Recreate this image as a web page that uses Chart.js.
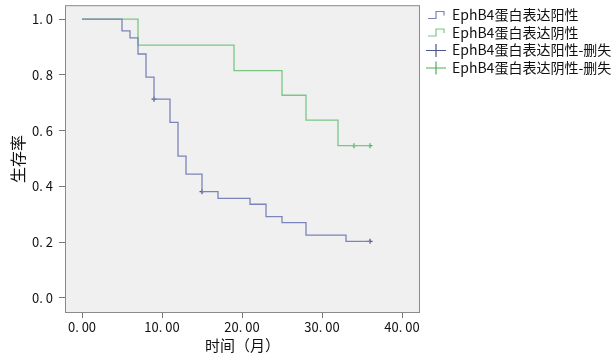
<!DOCTYPE html>
<html>
<head>
<meta charset="utf-8">
<script src="https://cdn.jsdelivr.net/npm/chart.js@4/dist/chart.umd.min.js"></script>
<style>
  html, body { margin: 0; padding: 0; background: #fff; }
  #wrap { width: 615px; height: 360px; position: relative; }
</style>
</head>
<body>
<div id="wrap"><canvas id="km" width="615" height="360"></canvas></div>
<script>
// survival steps
const posTimes = [0, 5, 6, 7, 8, 9, 11, 12, 13, 15, 17, 21, 23, 25, 28, 33, 36];
const posSurv = [1, 0.958, 0.933, 0.875, 0.792, 0.713, 0.630, 0.509, 0.444, 0.381, 0.357, 0.336, 0.292, 0.270, 0.225, 0.203, 0.203];
const negTimes = [0, 7, 19, 25, 28, 32, 36];
const negSurv = [1, 0.907, 0.815, 0.727, 0.638, 0.546, 0.546];

// censored observations
const posCensTimes = [9, 15, 36];
const posCensSurv = [0.713, 0.381, 0.203];
const negCensTimes = [34, 36];
const negCensSurv = [0.546, 0.546];

const xTicks = [0, 10, 20, 30, 40];
const xTickLabels = ['0. 00', '10. 00', '20. 00', '30. 00', '40. 00'];
const yTicks = [0, 0.2, 0.4, 0.6, 0.8, 1.0];
const yTickLabels = ['0. 0', '0. 2', '0. 4', '0. 6', '0. 8', '1. 0'];

const legendLabels = ['EphB4蛋白表达阳性', 'EphB4蛋白表达阴性', 'EphB4蛋白表达阳性-删失', 'EphB4蛋白表达阴性-删失'];

const blueLine = '#7a84b8';
const greenLine = '#78c884';
const blueMark = '#4d568f';
const greenMark = '#4caf5e';
const font = '"Noto Sans CJK SC", "Noto Sans", sans-serif';

const toPoints = (xs, ys) => xs.map((x, i) => ({ x: x, y: ys[i] }));

const plotFrame = {
    id: 'plotFrame',
    beforeDraw(chart) {
        const a = chart.chartArea;
        const ctx = chart.ctx;
        ctx.save();
        ctx.fillStyle = '#f0f0f0';
        ctx.fillRect(a.left, a.top, a.right - a.left, a.bottom - a.top);
        ctx.restore();
    },
    afterDraw(chart) {
        const a = chart.chartArea;
        const ctx = chart.ctx;
        ctx.save();
        ctx.strokeStyle = '#8a8a8a';
        ctx.lineWidth = 1;
        ctx.strokeRect(a.left + 0.5, a.top + 0.5, a.right - a.left - 1, a.bottom - a.top - 1);

        // legend
        const colors = [blueLine, greenLine, blueMark, greenMark];
        const x0 = 428, tx = 452;
        const rows = [15, 32.5, 50, 67.5];
        ctx.font = '14px ' + font;
        ctx.textBaseline = 'middle';
        ctx.fillStyle = '#111';
        rows.forEach((y, i) => {
            ctx.strokeStyle = colors[i];
            ctx.lineWidth = 1.2;
            ctx.beginPath();
            if (i < 2) {
                ctx.moveTo(x0, y + 3.5);
                ctx.lineTo(x0 + 8, y + 3.5);
                ctx.lineTo(x0 + 8, y - 3.5);
                ctx.lineTo(x0 + 16, y - 3.5);
                ctx.lineTo(x0 + 16, y + 0.5);
            } else {
                ctx.moveTo(x0 - 2, y + 0.5);
                ctx.lineTo(x0 + 18, y + 0.5);
                ctx.moveTo(x0 + 8, y - 6);
                ctx.lineTo(x0 + 8, y + 7);
            }
            ctx.stroke();
            ctx.fillText(legendLabels[i], tx, y);
        });
        ctx.restore();
    }
};

new Chart(document.getElementById('km'), {
    type: 'scatter',
    data: {
        datasets: [
            {
                data: toPoints(posTimes, posSurv),
                showLine: true,
                stepped: true,
                borderColor: blueLine,
                borderWidth: 1.3,
                pointRadius: 0
            },
            {
                data: toPoints(negTimes, negSurv),
                showLine: true,
                stepped: true,
                borderColor: greenLine,
                borderWidth: 1.3,
                pointRadius: 0
            },
            {
                data: toPoints(posCensTimes, posCensSurv),
                pointStyle: 'cross',
                pointRadius: 2.5,
                borderColor: blueMark,
                borderWidth: 1.2
            },
            {
                data: toPoints(negCensTimes, negCensSurv),
                pointStyle: 'cross',
                pointRadius: 2.5,
                borderColor: greenMark,
                borderWidth: 1.2
            }
        ]
    },
    options: {
        responsive: false,
        animation: false,
        layout: { padding: { top: 5, right: 195, left: 0, bottom: 0 } },
        plugins: { legend: { display: false }, tooltip: { enabled: false } },
        scales: {
            x: {
                type: 'linear',
                min: -2.125,
                max: 42.25,
                afterBuildTicks: s => { s.ticks = xTicks.map(v => ({ value: v })); },
                afterFit: s => { s.height = 47; s.paddingLeft = 0; s.paddingRight = 0; },
                ticks: {
                    color: '#111',
                    font: { family: font, size: 13 },
                    padding: 1,
                    maxRotation: 0,
                    callback: v => xTickLabels[xTicks.indexOf(v)]
                },
                grid: { drawOnChartArea: false, tickLength: 5, color: '#777' },
                border: { display: false },
                title: {
                    display: true,
                    text: '时间（月）',
                    color: '#111',
                    font: { family: font, size: 15 },
                    padding: { top: 0, bottom: 6 }
                }
            },
            y: {
                min: -0.054,
                max: 1.05,
                afterBuildTicks: s => { s.ticks = yTicks.map(v => ({ value: v })); },
                afterFit: s => { s.width = 65; s.paddingTop = 0; s.paddingBottom = 0; },
                ticks: {
                    color: '#111',
                    font: { family: font, size: 13 },
                    padding: 6,
                    callback: v => yTickLabels[yTicks.findIndex(t => Math.abs(t - v) < 1e-6)]
                },
                grid: { drawOnChartArea: false, tickLength: 6, color: '#777' },
                border: { display: false },
                title: {
                    display: true,
                    text: '生存率',
                    color: '#111',
                    font: { family: font, size: 16 },
                    padding: { top: 8, bottom: 0 }
                }
            }
        }
    },
    plugins: [plotFrame]
});
</script>
</body>
</html>
